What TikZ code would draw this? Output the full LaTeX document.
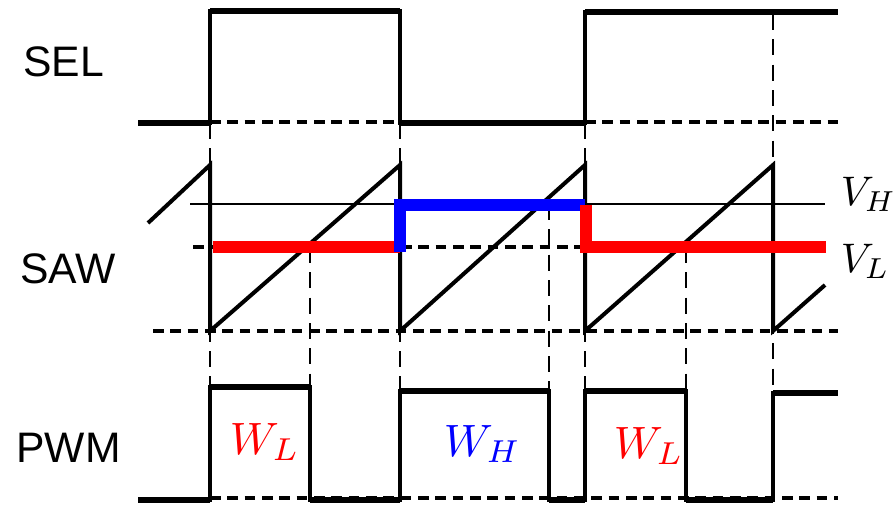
\documentclass[tikz,border=0pt]{standalone}
\usepackage{fontspec}
\setsansfont{Liberation Sans}
\begin{document}
\begin{tikzpicture}[x=0.75pt, y=-0.75pt, line join=miter,
          sigline/.style={line width=4.4pt},
          edgeline/.style={line width=2.9pt},
          sawline/.style={line width=3pt},
          refline/.style={line width=2pt},
          hguide/.style={line width=2.4pt, dash pattern=on 8pt off 5pt},
          vguide/.style={line width=2pt, dash pattern=on 12pt off 7pt},
          lowlevel/.style={draw=red, line width=8.5pt},
          highlevel/.style={draw=blue, line width=8.5pt},
          siglabel/.style={font=\sffamily\fontsize{32}{38}\selectfont, anchor=base west, inner sep=0pt},
          vlabel/.style={scale=3.1, anchor=base west, inner sep=0pt},
          wlabel/.style={scale=3.4, anchor=base west, inner sep=0pt}]
        \useasboundingbox (0,0) rectangle (894,507);
        % horizontal guides
        \draw[hguide] (210,122) -- (400,122);
        \draw[hguide] (585,122) -- (838,122);
        \draw[hguide] (193,247) -- (585,247);
        \draw[hguide] (153,331) -- (838,331);
        \draw[hguide] (210,498) -- (838,498);
        % vertical guides at SEL edges
        \draw[vguide] (210,123) -- (210,386);
        \draw[vguide] (400,123) -- (400,391);
        \draw[vguide] (585,123) -- (585,391);
        \draw[vguide] (773,14) -- (773,393);
        % vertical guides at crossings
        \draw[vguide] (310,247) -- (310,386);
        \draw[vguide] (549,204) -- (549,391);
        \draw[vguide] (686,247) -- (686,391);
        % SEL
        \draw[edgeline] (138,123) -- (210,123) -- (210,11) -- (400,11) -- (400,123)
          -- (585,123) -- (585,12) -- (838,12);
        \draw[sigline] (138,123) -- (210,123);
        \draw[sigline] (210,11) -- (400,11);
        \draw[sigline] (400,123) -- (585,123);
        \draw[sigline] (585,12) -- (838,12);
        % SAW and reference level
        \draw[refline] (190,204) -- (825,204);
        \draw[sawline] (148,223) -- (210,165) -- (210,331) -- (400,165) -- (400,331)
          -- (585,165) -- (585,331) -- (773,165) -- (773,331) -- (825,285);
        % selected level: low, high, low
        \draw[lowlevel] (213,247) -- (400,247);
        \draw[highlevel] (400,252) -- (400,205) -- (585,205);
        \draw[lowlevel] (586,205) -- (586,247) -- (826,247);
        % PWM
        \draw[edgeline] (138,500) -- (210,500) -- (210,387) -- (310,387) -- (310,500)
          -- (400,500) -- (400,391) -- (549,391) -- (549,500) -- (585,500) -- (585,391)
          -- (686,391) -- (686,500) -- (773,500) -- (773,393) -- (838,393);
        \draw[sigline] (138,500) -- (210,500);
        \draw[sigline] (210,387) -- (310,387);
        \draw[sigline] (310,500) -- (400,500);
        \draw[sigline] (400,391) -- (549,391);
        \draw[sigline] (549,500) -- (585,500);
        \draw[sigline] (585,391) -- (686,391);
        \draw[sigline] (686,500) -- (773,500);
        \draw[sigline] (773,393) -- (838,393);
        % labels
        \node[siglabel] (sel) at (23,76) {SEL};
        \node[siglabel] (saw) at (20,283) {SAW};
        \node[siglabel] (pwm) at (16,462) {PWM};
        \node[vlabel] (vh) at (840,205) {$V_H$};
        \node[vlabel] (vl) at (840,272) {$V_L$};
        \node[wlabel, text=red] (wl1) at (229,454) {$W_L$};
        \node[wlabel, text=blue] (wh) at (443,456) {$W_H$};
        \node[wlabel, text=red] (wl2) at (613,458) {$W_L$};
      \end{tikzpicture}
\end{document}
